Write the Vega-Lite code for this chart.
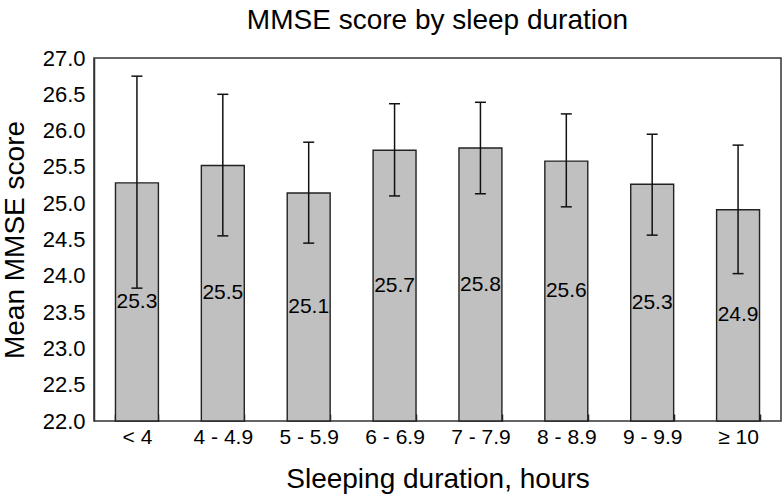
{
  "$schema": "https://vega.github.io/schema/vega-lite/v6.json",
  "width": 687,
  "height": 363,
  "autosize": {"type": "none"},
  "padding": {"left": 94, "top": 58, "right": 2, "bottom": 76},
  "title": {"text": "MMSE score by sleep duration", "fontSize": 28, "font": "Liberation Sans", "fontWeight": "normal", "color": "#000", "anchor": "middle", "offset": 12},
  "data": {"values": [
    {"sleep": "< 4", "mean": 25.28, "lo": 23.83, "hi": 26.75},
    {"sleep": "4 - 4.9", "mean": 25.52, "lo": 24.55, "hi": 26.50},
    {"sleep": "5 - 5.9", "mean": 25.14, "lo": 24.45, "hi": 25.84},
    {"sleep": "6 - 6.9", "mean": 25.73, "lo": 25.10, "hi": 26.37},
    {"sleep": "7 - 7.9", "mean": 25.76, "lo": 25.13, "hi": 26.39},
    {"sleep": "8 - 8.9", "mean": 25.58, "lo": 24.95, "hi": 26.23},
    {"sleep": "9 - 9.9", "mean": 25.26, "lo": 24.56, "hi": 25.95},
    {"sleep": "≥ 10", "mean": 24.91, "lo": 24.03, "hi": 25.80}
  ]},
  "encoding": {
    "x": {"field": "sleep", "type": "nominal", "sort": null,
      "scale": {"paddingInner": 0.5, "paddingOuter": 0.25},
      "axis": {"title": "Sleeping duration, hours", "labelAngle": 0, "tickBand": "extent", "tickSize": 7, "offset": -7, "domain": false, "labelPadding": 5, "titlePadding": 18, "tickColor": "#222", "tickWidth": 1.5}}
  },
  "layer": [
    {"layer": [
      {"mark": {"type": "bar", "fill": "#c0c0c0", "stroke": "#222", "strokeWidth": 1.4},
       "encoding": {
         "y": {"field": "mean", "type": "quantitative",
           "scale": {"domain": [22, 27], "zero": false, "nice": false},
           "axis": {"title": "Mean MMSE score", "values": [22, 22.5, 23, 23.5, 24, 24.5, 25, 25.5, 26, 26.5, 27], "format": ".1f", "ticks": false, "labelOverlap": false, "labelPadding": 9, "labelFontSize": 22, "titlePadding": 13}},
         "y2": {"datum": 22}
       }},
      {"mark": {"type": "rule", "color": "#111", "strokeWidth": 1.5},
       "encoding": {"y": {"field": "lo", "type": "quantitative",
           "axis": {"title": "Mean MMSE score", "values": [22, 22.5, 23, 23.5, 24, 24.5, 25, 25.5, 26, 26.5, 27], "format": ".1f", "ticks": false, "labelOverlap": false, "labelPadding": 9, "labelFontSize": 22, "titlePadding": 13}},
         "y2": {"field": "hi"}}},
      {"mark": {"type": "tick", "color": "#111", "thickness": 1.5, "size": 11, "opacity": 1},
       "encoding": {"y": {"field": "lo", "type": "quantitative",
           "axis": {"title": "Mean MMSE score", "values": [22, 22.5, 23, 23.5, 24, 24.5, 25, 25.5, 26, 26.5, 27], "format": ".1f", "ticks": false, "labelOverlap": false, "labelPadding": 9, "labelFontSize": 22, "titlePadding": 13}}}},
      {"mark": {"type": "tick", "color": "#111", "thickness": 1.5, "size": 11, "opacity": 1},
       "encoding": {"y": {"field": "hi", "type": "quantitative",
           "axis": {"title": "Mean MMSE score", "values": [22, 22.5, 23, 23.5, 24, 24.5, 25, 25.5, 26, 26.5, 27], "format": ".1f", "ticks": false, "labelOverlap": false, "labelPadding": 9, "labelFontSize": 22, "titlePadding": 13}}}}
    ]},
    {"mark": {"type": "text", "fontSize": 21, "font": "Liberation Sans", "color": "#000", "baseline": "middle"},
     "encoding": {
       "y": {"field": "mean", "type": "quantitative", "scale": {"domain": [22, 32], "zero": false, "nice": false}, "axis": null},
       "text": {"field": "mean", "type": "quantitative", "format": ".1f"}}}
  ],
  "resolve": {"scale": {"y": "independent"}, "axis": {"y": "independent"}},
  "config": {
    "view": {"stroke": "#333", "strokeWidth": 1.5},
    "axis": {"labelFont": "Liberation Sans", "titleFont": "Liberation Sans", "labelFontSize": 21, "titleFontSize": 28, "titleFontWeight": "normal", "labelColor": "#000", "titleColor": "#000", "domainColor": "#333", "domainWidth": 1.5, "tickColor": "#333", "tickWidth": 1.2, "grid": false}
  }
}
